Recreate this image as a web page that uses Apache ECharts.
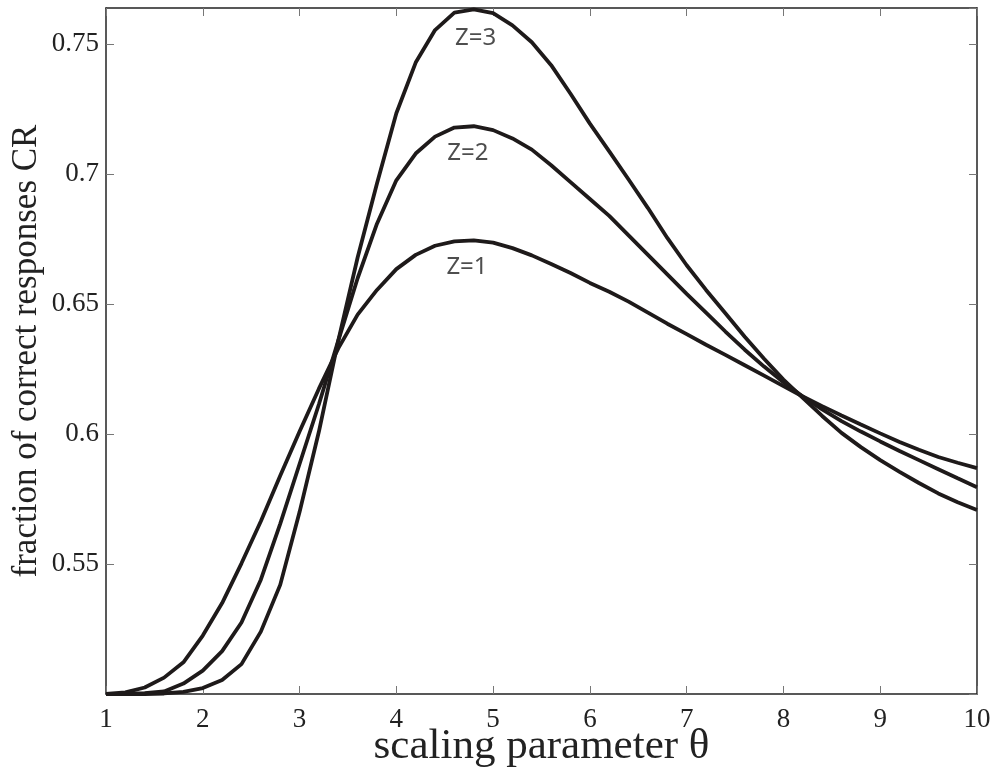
<!DOCTYPE html>
<html>
<head>
<meta charset="utf-8">
<script src="https://cdn.jsdelivr.net/npm/echarts@6/dist/echarts.min.js"></script>
<style>
  html, body { margin: 0; padding: 0; background: #fff; }
  #main { width: 995px; height: 771px; }
</style>
</head>
<body>
<div id="main"></div>
<script>
var theta = [1, 1.2, 1.4, 1.6, 1.8, 2, 2.2, 2.4, 2.6, 2.8, 3, 3.2, 3.4, 3.6, 3.8, 4, 4.2, 4.4, 4.6, 4.8,
  5, 5.2, 5.4, 5.6, 5.8, 6, 6.2, 6.4, 6.6, 6.8, 7, 7.2, 7.4, 7.6, 7.8, 8, 8.2, 8.4, 8.6, 8.8,
  9, 9.2, 9.4, 9.6, 9.8, 10];

var z1 = [0.5000, 0.5006, 0.5025, 0.5063, 0.5122, 0.5225, 0.5350, 0.5503, 0.5665, 0.5840,
  0.6010, 0.6175, 0.6330, 0.6460, 0.6555, 0.6635, 0.6690, 0.6725, 0.6742, 0.6746,
  0.6737, 0.6716, 0.6688, 0.6655, 0.6620, 0.6582, 0.6548, 0.6510, 0.6468, 0.6425,
  0.6385, 0.6344, 0.6305, 0.6265, 0.6225, 0.6185, 0.6145, 0.6108, 0.6072, 0.6037,
  0.6003, 0.5970, 0.5940, 0.5912, 0.5890, 0.5869];

var z2 = [0.5000, 0.5000, 0.5003, 0.5010, 0.5040, 0.5090, 0.5165, 0.5275, 0.5440, 0.5655,
  0.5885, 0.6115, 0.6360, 0.6600, 0.6810, 0.6977, 0.7080, 0.7145, 0.7180, 0.7185,
  0.7170, 0.7138, 0.7095, 0.7035, 0.6970, 0.6905, 0.6840, 0.6765, 0.6690, 0.6615,
  0.6540, 0.6468, 0.6395, 0.6325, 0.6260, 0.6200, 0.6145, 0.6095, 0.6050, 0.6010,
  0.5972, 0.5935, 0.5900, 0.5865, 0.5830, 0.5796];

var z3 = [0.5000, 0.5000, 0.5000, 0.5002, 0.5008, 0.5023, 0.5054, 0.5115, 0.5240, 0.5420,
  0.5700, 0.6010, 0.6360, 0.6680, 0.6965, 0.7235, 0.7430, 0.7555, 0.7622, 0.7635,
  0.7620, 0.7573, 0.7508, 0.7420, 0.7310, 0.7195, 0.7088, 0.6980, 0.6870, 0.6755,
  0.6650, 0.6555, 0.6465, 0.6375, 0.6290, 0.6210, 0.6140, 0.6070, 0.6005, 0.5950,
  0.5900, 0.5855, 0.5812, 0.5772, 0.5738, 0.5708];

// curve labels, placed in data coordinates
var curveLabels = ['Z=1', 'Z=2', 'Z=3'];
var labelPos = [[4.73, 0.6642], [4.74, 0.7081], [4.82, 0.7523]];

function pairs(ys) {
  return theta.map(function (t, i) { return [t, ys[i]]; });
}

var chartDom = document.getElementById('main');
var myChart = echarts.init(chartDom);
var option;

var serif = 'Liberation Serif';
var ink = '#1e1a1a';

function lineSeries(name, ys) {
  return {
    name: name,
    type: 'line',
    data: pairs(ys),
    showSymbol: false,
    symbol: 'none',
    smooth: false,
    clip: false,
    lineStyle: { color: ink, width: 3.8 },
    z: 3
  };
}

var xCommon = { type: 'value', min: 1, max: 10, interval: 1 };
var yCommon = { type: 'value', min: 0.5, max: 0.764, interval: 0.05 };
var tickStyle = { show: true, inside: true, length: 8, lineStyle: { color: '#777', width: 1 } };

option = {
  animation: false,
  backgroundColor: '#fff',
  grid: { left: 106, right: 18, top: 8, bottom: 77, containLabel: false, outerBoundsMode: 'none' },
  xAxis: [
    Object.assign({}, xCommon, {
      position: 'bottom',
      name: 'scaling parameter \u03b8',
      nameLocation: 'middle',
      nameGap: 31,
      nameMoveOverlap: false,
      nameTextStyle: { fontFamily: serif, fontSize: 43, color: '#222' },
      axisLine: { show: true, lineStyle: { color: '#222', width: 1.5 } },
      axisTick: tickStyle,
      axisLabel: { fontFamily: serif, fontSize: 27, color: '#222', margin: 12 },
      splitLine: { show: false }
    }),
    Object.assign({}, xCommon, {
      position: 'top',
      axisLine: { show: true, lineStyle: { color: '#222', width: 1.5 } },
      axisTick: tickStyle,
      axisLabel: { show: false },
      splitLine: { show: false }
    })
  ],
  yAxis: [
    Object.assign({}, yCommon, {
      position: 'left',
      name: 'fraction of correct responses CR',
      nameLocation: 'middle',
      nameGap: 62,
      nameMoveOverlap: false,
      nameTextStyle: { fontFamily: serif, fontSize: 35, color: '#222' },
      axisLine: { show: true, lineStyle: { color: '#222', width: 1.5 } },
      axisTick: tickStyle,
      axisLabel: { fontFamily: serif, fontSize: 27, color: '#222', margin: 7,
        showMinLabel: false, showMaxLabel: false },
      splitLine: { show: false }
    }),
    Object.assign({}, yCommon, {
      position: 'right',
      axisLine: { show: true, lineStyle: { color: '#222', width: 1.5 } },
      axisTick: tickStyle,
      axisLabel: { show: false },
      splitLine: { show: false }
    })
  ],
  series: [
    lineSeries('Z=1', z1),
    lineSeries('Z=2', z2),
    lineSeries('Z=3', z3),
    {
      name: 'labels',
      type: 'scatter',
      symbolSize: 0,
      data: labelPos.map(function (p, i) { return { value: p, name: curveLabels[i] }; }),
      label: {
        show: true,
        position: 'inside',
        formatter: '{b}',
        fontFamily: 'Noto Sans',
        fontSize: 24,
        color: '#222'
      },
      z: 4
    }
  ]
};

option && myChart.setOption(option);
</script>
</body>
</html>
